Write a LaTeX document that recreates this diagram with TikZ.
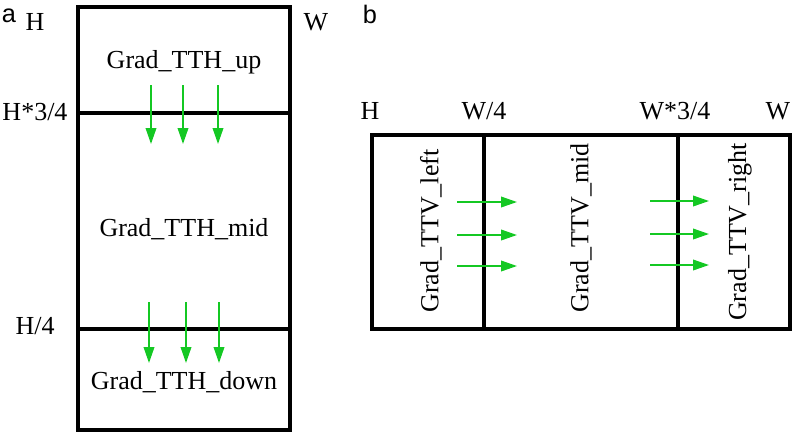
\documentclass[tikz,border=0pt]{standalone}
\usepackage{fontspec}
\setmainfont{Liberation Serif}
\newfontfamily\panelfont{Liberation Sans}
\usetikzlibrary{arrows.meta}
\definecolor{gradgreen}{RGB}{20,200,35}
\tikzset{
  frame/.style={line width=2.6pt},
  divider/.style={line width=2.4pt},
  gradarrow/.style={-{Triangle[length=12pt,width=8pt]},gradgreen,line width=1.2pt},
  lbl/.style={font=\fontsize{19.5}{22}\selectfont,inner sep=0pt,anchor=base},
  tag/.style={font=\panelfont\fontsize{19}{22}\selectfont,inner sep=0pt,anchor=base}
}
\begin{document}
\begin{tikzpicture}[x=0.75pt,y=-0.75pt]
    \useasboundingbox (0,0) rectangle (797,440);

    % panel a: horizontal split
    \draw[frame] (78,7) rectangle (290,430);
    \draw[divider] (78,113) -- (290,113);
    \draw[divider] (78,329) -- (290,329);
    \node[tag] (taga) at (9,22) {a};
    \node[lbl] (ha) at (35,30) {H};
    \node[lbl] (wa) at (316,30) {W};
    \node[lbl] (h34) at (35,120) {H*3/4};
    \node[lbl] (h14) at (35,334) {H/4};
    \node[lbl] (up) at (184,68) {Grad\_TTH\_up};
    \node[lbl] (mida) at (184,236) {Grad\_TTH\_mid};
    \node[lbl] (down) at (184,389) {Grad\_TTH\_down};
    \foreach \x/\k in {151/1,183/2,218/3} {
        \coordinate (us\k) at (\x,85);
        \coordinate (ue\k) at (\x,144);
        \draw[gradarrow] (us\k) -- (ue\k);
    }
    \foreach \x/\k in {149/1,186/2,219/3} {
        \coordinate (ds\k) at (\x,302);
        \coordinate (de\k) at (\x,363);
        \draw[gradarrow] (ds\k) -- (de\k);
    }

    % panel b: vertical split
    \draw[frame] (372,135) rectangle (790,329);
    \draw[divider] (484,135) -- (484,329);
    \draw[divider] (678,135) -- (678,329);
    \node[tag] (tagb) at (370,23) {b};
    \node[lbl] (hb) at (370,119) {H};
    \node[lbl] (w14) at (484,119) {W/4};
    \node[lbl] (w34) at (675,119) {W*3/4};
    \node[lbl] (wb) at (778,119) {W};
    \node[lbl,anchor=center,rotate=90] (left) at (431,231) {Grad\_TTV\_left};
    \node[lbl,anchor=center,rotate=90] (midb) at (581,228) {Grad\_TTV\_mid};
    \node[lbl,anchor=center,rotate=90] (right) at (740,232) {Grad\_TTV\_right};
    \foreach \y/\k in {202/1,235/2,266/3} {
        \coordinate (ls\k) at (457,\y);
        \coordinate (le\k) at (517,\y);
        \draw[gradarrow] (ls\k) -- (le\k);
    }
    \foreach \y/\k in {201/1,234/2,265/3} {
        \coordinate (rs\k) at (650,\y);
        \coordinate (re\k) at (709,\y);
        \draw[gradarrow] (rs\k) -- (re\k);
    }
\end{tikzpicture}
\end{document}
